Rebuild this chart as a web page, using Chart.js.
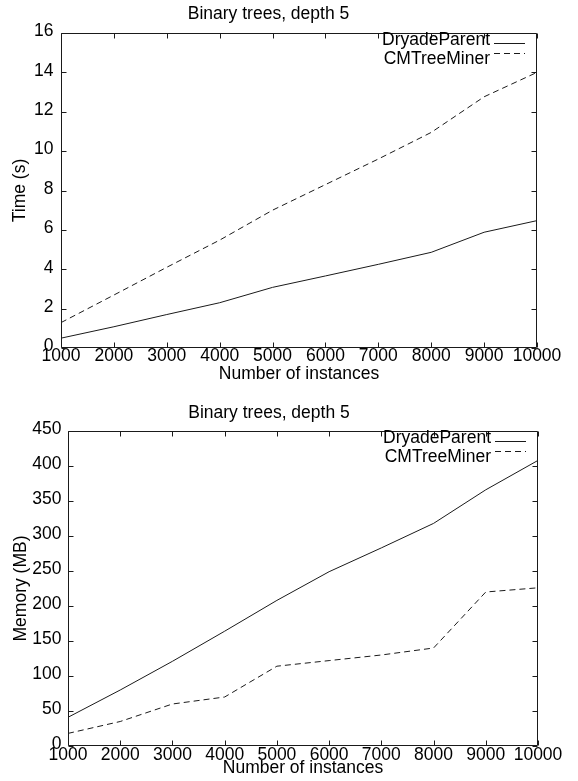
<!DOCTYPE html>
<html>
<head>
<meta charset="utf-8">
<title>Binary trees, depth 5</title>
<script src="https://cdn.jsdelivr.net/npm/chart.js@4.4.1/dist/chart.umd.min.js"></script>
<style>
  html, body { margin: 0; padding: 0; background: #fff; }
  .plot { position: absolute; left: 0; }
  canvas { display: block; }
</style>
</head>
<body>
<div class="plot" style="top:0"><canvas id="timeChart" width="578" height="390"></canvas></div>
<div class="plot" style="top:390px"><canvas id="memChart" width="578" height="391"></canvas></div>
<script>
// number of instances (x axis, also its tick labels)
const instances = [1000, 2000, 3000, 4000, 5000, 6000, 7000, 8000, 9000, 10000];

// running time in seconds
const timeDryade = [0.5, 1.08, 1.7, 2.3, 3.08, 3.66, 4.25, 4.86, 5.88, 6.47];
const timeCMTree = [1.29, 2.69, 4.1, 5.48, 7.0, 8.3, 9.6, 10.95, 12.76, 14.0];
const timeTicks = [0, 2, 4, 6, 8, 10, 12, 14, 16];

// memory in MB
const memDryade = [41, 80, 121, 164, 208, 249, 283, 318, 366, 408];
const memCMTree = [18, 35, 60, 70, 114, 122, 130, 140, 220, 226];
const memTicks = [0, 50, 100, 150, 200, 250, 300, 350, 400, 450];

const seriesNames = ["DryadeParent", "CMTreeMiner"];
const chartTitle = "Binary trees, depth 5";

const FONT = "'Liberation Sans', Arial, Helvetica, sans-serif";
const FONT_SIZE = 17.5;
const INK = "#1a1a1a";

Chart.defaults.font.family = FONT;
Chart.defaults.font.size = FONT_SIZE;
Chart.defaults.color = "#000";

// gnuplot style box: frame, inward ticks on all sides, legend in the top right corner
const framePlugin = {
    id: "frame",
    afterDatasetsDraw(chart, args, opts) {
        const { ctx, chartArea: a, scales: { x, y } } = chart;
        const L = Math.round(a.left) + 0.5;
        const R = Math.round(a.right) - 0.5;
        const T = Math.round(a.top) + 0.5;
        const B = Math.round(a.bottom) - 0.5;
        const tl = 5;

        ctx.save();
        ctx.strokeStyle = INK;
        ctx.lineWidth = 1;
        ctx.setLineDash([]);
        ctx.beginPath();
        ctx.rect(L, T, R - L, B - T);
        x.ticks.forEach(t => {
            const px = Math.round(x.getPixelForValue(t.value)) + 0.5;
            ctx.moveTo(px, B); ctx.lineTo(px, B - tl);
            ctx.moveTo(px, T); ctx.lineTo(px, T + tl);
        });
        y.ticks.forEach(t => {
            const py = Math.round(y.getPixelForValue(t.value)) + 0.5;
            ctx.moveTo(L, py); ctx.lineTo(L + tl, py);
            ctx.moveTo(R, py); ctx.lineTo(R - tl, py);
        });
        ctx.stroke();

        // legend: label first, line sample after it
        ctx.font = `${FONT_SIZE}px ${FONT}`;
        ctx.textAlign = "right";
        ctx.textBaseline = "middle";
        ctx.fillStyle = "#000";
        chart.data.datasets.forEach((ds, i) => {
            ctx.fillText(ds.label, a.right - 47, a.top + opts.textY + i * 19);
            const sy = Math.round(a.top + opts.sampleY + i * 10) + 0.5;
            ctx.strokeStyle = ds.borderColor;
            ctx.setLineDash(ds.borderDash || []);
            ctx.beginPath();
            ctx.moveTo(a.right - 43, sy);
            ctx.lineTo(a.right - 12, sy);
            ctx.stroke();
        });
        ctx.restore();
    }
};

function toPoints(values) {
    return values.map((v, i) => ({ x: instances[i], y: v }));
}

function makeChart(id, cfg) {
    return new Chart(document.getElementById(id), {
        type: "line",
        data: {
            datasets: [
                {
                    label: seriesNames[0],
                    data: toPoints(cfg.dryade),
                    borderColor: INK,
                    borderWidth: 1,
                    pointRadius: 0,
                    tension: 0
                },
                {
                    label: seriesNames[1],
                    data: toPoints(cfg.cmtree),
                    borderColor: INK,
                    borderWidth: 1,
                    borderDash: [6, 4],
                    pointRadius: 0,
                    tension: 0
                }
            ]
        },
        plugins: [framePlugin],
        options: {
            responsive: false,
            animation: false,
            devicePixelRatio: 1,
            layout: { padding: { left: 0, right: cfg.rightPad, top: 0, bottom: 0 } },
            plugins: {
                legend: { display: false },
                tooltip: { enabled: false },
                title: {
                    display: true,
                    text: chartTitle,
                    color: "#000",
                    font: { size: FONT_SIZE, weight: "normal" },
                    padding: cfg.titlePad
                },
                frame: { textY: 7.5, sampleY: 10 }
            },
            scales: {
                x: {
                    type: "linear",
                    min: instances[0],
                    max: instances[instances.length - 1],
                    afterBuildTicks: s => { s.ticks = instances.map(v => ({ value: v })); },
                    afterFit: s => { s.height = cfg.xHeight; },
                    grid: { display: false, drawTicks: false },
                    border: { display: false },
                    ticks: {
                        autoSkip: false,
                        maxRotation: 0,
                        padding: cfg.xTickPad,
                        color: "#000",
                        callback: v => String(v)
                    },
                    title: {
                        display: true,
                        text: "Number of instances",
                        color: "#000",
                        padding: { top: 0, bottom: cfg.xTitlePad }
                    }
                },
                y: {
                    type: "linear",
                    min: cfg.yTicks[0],
                    max: cfg.yTicks[cfg.yTicks.length - 1],
                    afterBuildTicks: s => { s.ticks = cfg.yTicks.map(v => ({ value: v })); },
                    afterFit: s => { s.width = cfg.yWidth; },
                    grid: { display: false, drawTicks: false },
                    border: { display: false },
                    ticks: {
                        padding: cfg.yTickPad,
                        labelOffset: -1.5,
                        color: "#000",
                        callback: v => String(v)
                    },
                    title: {
                        display: true,
                        text: cfg.yLabel,
                        color: "#000",
                        padding: { top: cfg.yTitlePad, bottom: 0 }
                    }
                }
            }
        }
    });
}

makeChart("timeChart", {
    dryade: timeDryade,
    cmtree: timeCMTree,
    yTicks: timeTicks,
    yLabel: "Time (s)",
    rightPad: 41,
    titlePad: { top: 4, bottom: 8 },
    yWidth: 61,
    yTickPad: 7.5,
    yTitlePad: 9.5,
    xHeight: 42,
    xTickPad: -2,
    xTitlePad: 5.5
});

makeChart("memChart", {
    dryade: memDryade,
    cmtree: memCMTree,
    yTicks: memTicks,
    yLabel: "Memory (MB)",
    rightPad: 40,
    titlePad: { top: 12.5, bottom: 7.5 },
    yWidth: 68,
    yTickPad: 6.5,
    yTitlePad: 10.5,
    xHeight: 35,
    xTickPad: -1.5,
    xTitlePad: 2.5
});
</script>
</body>
</html>
